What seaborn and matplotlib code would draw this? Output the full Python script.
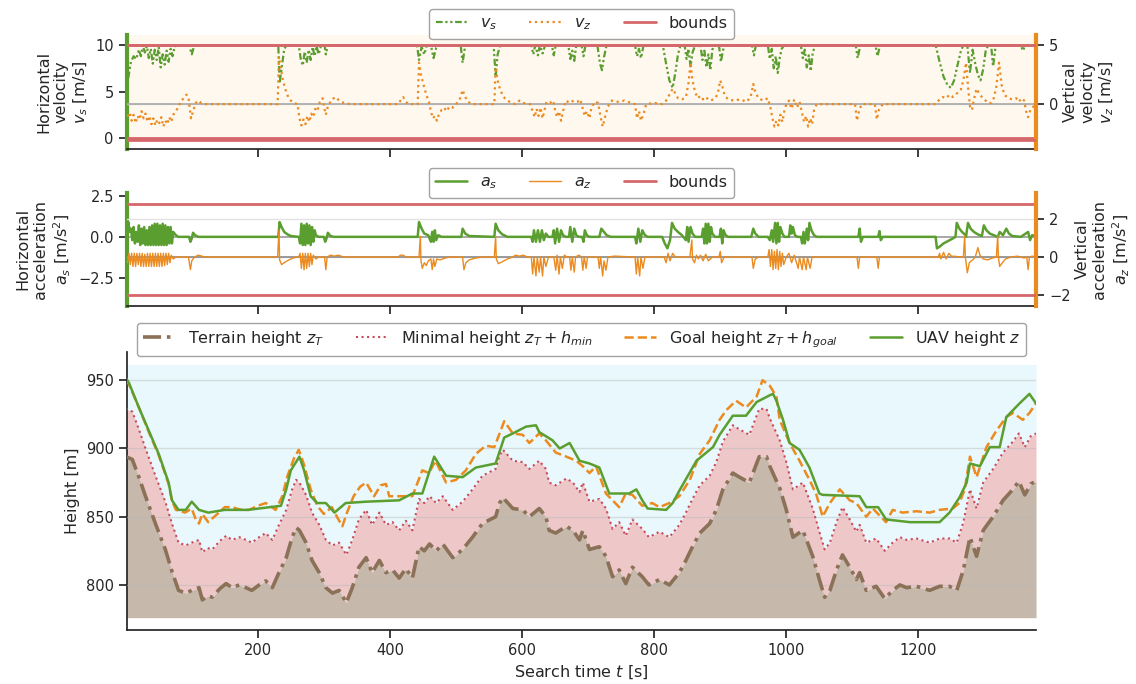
import matplotlib
matplotlib.use("Agg")
import matplotlib.pyplot as plt
import seaborn as sns
import numpy as np
from matplotlib.lines import Line2D

# ---------------- data ----------------
vs_pts = [(0,4.4),(4,6.5),(8,8.2),(12,8.8),(16,8.5),(20,9.5),(23,8.8),(26,10),(29,9.2),(32,9.9),(35,8.6),(38,9.6),(41,8.0),(44,9.5),(47,8.4),(50,9.8),(53,7.6),(56,9.0),(59,7.9),(62,9.4),(65,8.2),(68,9.6),(71,8.8),(74,9.8),(78,10),(96,10),(100,9.0),(104,10),(231,10),(233,5.9),(236,7.5),(240,9.6),(244,10),(262,10),(265,8.5),(268,7.8),(271,9.3),(274,8.1),(277,9.5),(280,8.4),(283,9.8),(286,8.8),(289,9.9),(292,9.0),(296,10),(301,10),(303,9.0),(306,10),
(441,10),(444,8.4),(448,9.8),(452,9.0),(456,10),(462,10),(466,8.6),(470,9.7),(474,10),(507,10),(510,8.1),(514,10),(557,10),(560,6.6),(563,9.0),(567,10),
(614,10),(617,9.0),(620,10),(624,8.9),(627,10),(631,9.1),(635,10),(645,10),(648,8.9),(651,10),(670,10),(673,8.5),(676,9.4),(679,8.3),(682,10),(690,10),(693,8.8),(696,10),(714,10),(718,8.0),(721,7.3),(724,8.7),(728,10),(771,10),(774,8.8),(777,9.6),(780,8.6),(784,10),
(813,10),(818,8.0),(823,6.2),(828,5.4),(832,7.0),(836,9.0),(840,10),(846,10),(849,8.5),(852,9.6),(855,7.7),(858,9.2),(862,10),(870,10),(873,8.4),(876,9.4),(879,7.6),(882,9.0),(885,7.3),(888,9.5),(891,10),(898,10),(901,8.2),(904,9.4),(907,10),(948,10),(951,8.9),(954,10),(972,10),(975,8.5),(978,9.6),(981,7.5),(984,8.8),(987,7.0),(990,8.6),(993,9.6),(997,10),(1022,10),(1025,8.6),(1028,9.5),(1031,7.6),(1034,8.9),(1037,7.2),(1040,9.2),(1044,10),(1105,10),(1108,8.6),(1112,10),(1135,10),(1138,8.8),(1142,10),
(1226,10),(1232,8.2),(1238,6.6),(1244,5.7),(1249,5.4),(1254,6.2),(1259,7.8),(1264,9.3),(1268,10),(1274,10),(1278,7.0),(1282,9.5),(1286,8.0),(1290,6.8),(1294,6.2),(1298,7.4),(1302,9.5),(1306,10),(1310,10),(1313,7.7),(1317,10),(1355,10),(1358,9.4),(1362,10),(1378,10)]

vz_pts = [(0,-0.5),(3,-1.0),(6,-0.7),(9,-1.4),(12,-0.9),(15,-1.6),(18,-1.0),(21,-1.3),(24,-0.6),(27,-1.2),(30,-0.8),(33,-1.5),(36,-1.0),(39,-1.7),(42,-1.2),(45,-1.8),(48,-1.3),(51,-1.6),(54,-1.1),(57,-1.9),(60,-1.4),(63,-1.7),(66,-1.1),(69,-1.5),(72,-0.9),(76,-0.6),(80,-0.2),(84,0.3),(88,0.5),(92,0.8),(95,0.6),(97,-0.4),(99,-1.2),(102,-0.6),(106,0.1),(110,0.3),(114,0.1),(120,0),(230,0),(232,4.0),(235,3.0),(238,2.0),(242,1.2),(246,0.6),(250,0.3),(254,0.1),(260,0),(263,-1.2),(266,-1.8),(269,-1.3),(272,-1.7),(275,-1.0),(278,-1.5),(281,-0.8),(284,-1.1),(287,-0.4),(290,-0.6),(294,0.2),(298,0.5),(301,-0.4),(303,-0.9),(306,-0.2),(312,0.4),(318,0.6),(323,0.3),(330,0.1),(340,0),
(412,0),(416,0.3),(420,0.6),(424,0.2),(428,0),(442,0),(444,3.5),(447,2.5),(451,1.6),(455,0.8),(459,0.2),(462,-0.6),(465,-1.2),(468,-1.0),(471,-1.4),(474,-0.9),(478,-0.5),(482,-0.3),(486,-0.6),(490,-0.2),(495,-0.3),(500,0),(505,0.3),(510,1.2),(514,0.6),(518,0.2),(524,0),(558,0),(560,3.1),(563,2.0),(567,1.2),(572,0.6),(578,0.3),(584,0.1),(590,0),(596,0.3),(602,0.1),(612,0),(616,-0.6),(619,-1.1),(622,-0.4),(625,-1.0),(628,-0.3),(631,-1.2),(634,-0.5),(637,0.2),(642,0.1),(647,0.3),(650,-0.5),(653,-1.1),(656,-0.6),(659,-1.4),(662,-0.6),(666,0.3),(672,0.1),(678,0.3),(684,0.2),(688,0.4),(692,-0.4),(695,-1.0),(698,-0.6),(702,-1.2),(705,-0.3),(710,0.2),(715,0.1),(718,-0.8),(722,-1.9),(726,-1.0),(730,-0.2),(736,0.3),(745,0.2),(755,0.3),(765,0.1),(771,0),(774,-1.2),(777,-0.6),(780,-1.4),(784,-0.8),(788,0),(800,0.1),(812,0),(818,0.3),(824,0.9),(828,1.3),(832,0.9),(836,0.5),(842,0.4),(848,0.6),(852,1.8),(855,3.5),(858,2.0),(862,1.0),(866,0.5),(870,0.7),(874,0.4),(878,0.6),(884,0.3),(890,0.4),(896,0.8),(900,2.0),(903,1.5),(907,0.7),(912,0.4),(920,0.3),(930,0.4),(940,0.2),(946,0.6),(950,1.7),(953,1.0),(958,0.5),(965,0.3),(972,0.5),(976,-0.3),(979,-1.2),(982,-1.9),(985,-1.4),(988,-1.8),(991,-0.9),(994,-1.5),(997,-0.6),(1000,0.0),(1004,0.3),(1008,-0.4),(1012,0.4),(1016,-0.3),(1020,0.2),(1024,-0.8),(1027,-1.5),(1030,-1.0),(1033,-1.9),(1036,-1.2),(1039,-1.7),(1042,-0.5),(1046,0),(1104,0),(1107,-1.4),(1110,-0.6),(1114,0),(1134,0),(1137,-1.3),(1140,-0.5),(1146,0),(1226,0),(1232,0.4),(1237,0.6),(1242,0.5),(1247,0.8),(1252,0.6),(1258,0.9),(1264,1.2),(1268,2.0),(1272,3.5),(1275,1.5),(1278,-0.2),(1281,-0.5),(1284,0.4),(1288,1.3),(1292,0.9),(1296,0.6),(1300,0.4),(1305,0.1),(1310,0.1),(1314,0.5),(1318,1.5),(1322,3.5),(1326,1.6),(1330,0.8),(1336,0.5),(1342,0.4),(1348,0.5),(1352,0.2),(1356,0.5),(1360,0.3),(1363,-0.6),(1366,-1.1),(1370,-0.4),(1374,-0.2),(1378,-0.3)]

as_pts = [(0,1.4),(2,0.5),(4,0.9),(6,0.3),(8,0.5),(10,-0.2),(12,0.6),(14,-0.4),(16,0.3),(18,-0.3),(20,0.7),(22,-0.5),(24,0.5),(26,-0.4),(28,0.6),(30,-0.5),(32,0.4),(34,-0.5),(36,0.6),(38,-0.5),(40,0.7),(42,-0.5),(44,0.8),(46,-0.5),(48,0.8),(50,-0.5),(52,0.7),(54,-0.5),(56,0.8),(58,-0.5),(60,0.7),(62,-0.5),(64,0.6),(66,-0.4),(68,0.6),(70,-0.4),(72,0.3),(76,0.1),(80,0.0),(96,0),(98,-0.3),(100,-0.1),(102,0.25),(105,0.1),(110,0),(231,0),(233,0.9),(236,0.6),(240,0.3),(245,0.15),(250,0.05),(262,0),(264,-0.4),(266,0.8),(268,-0.5),(270,0.7),(272,-0.5),(274,0.8),(276,-0.4),(278,0.7),(280,-0.5),(282,0.6),(284,-0.3),(286,0.4),(288,0.1),(292,0.0),(300,0),(302,-0.3),(304,-0.1),(306,0.25),(310,0.05),(315,0),
(442,0),(444,0.9),(448,0.5),(452,0.2),(458,0.1),(462,-0.3),(464,0.3),(466,-0.3),(468,0.4),(470,-0.2),(473,0.1),(478,0),(508,0),(510,0.5),(514,0.2),(520,0.05),(558,0),(560,0.8),(564,0.4),(570,0.15),(578,0),(614,0),(616,-0.3),(618,0.4),(621,-0.3),(624,0.4),(627,-0.3),(630,0.4),(633,-0.2),(636,0.2),(640,0),(646,0),(648,0.4),(650,-0.4),(653,0.5),(656,-0.3),(659,0.4),(662,0.1),(666,0),(671,0),(673,0.6),(676,-0.3),(679,0.5),(682,0.1),(686,0),(691,0),(693,-0.3),(695,0.4),(698,0.1),(702,0),(717,0),(720,0.5),(724,0.3),(728,0.1),(734,0),(771,0),(773,-0.4),(776,0.5),(779,-0.3),(782,0.4),(786,0.1),(790,0),(812,0),(816,-0.4),(820,-0.7),(824,-0.2),(827,0.85),(831,0.5),(836,0.3),(842,0.1),(848,-0.2),(850,0.6),(852,-0.3),(855,0.6),(858,0.2),(862,0),(872,0),(874,0.5),(876,-0.4),(878,0.8),(880,-0.4),(882,0.8),(884,-0.3),(886,0.6),(888,0.2),(892,0),(899,0),(901,0.5),(903,-0.4),(905,0.4),(908,0.1),(912,0),(947,0),(950,0.5),(953,0.2),(958,0),
(972,0),(975,-0.2),(978,0.4),(980,-0.3),(983,0.85),(985,-0.4),(987,0.85),(989,-0.3),(991,0.6),(994,0.2),(997,0),(1004,0),(1006,0.7),(1008,0.2),(1010,0.6),(1013,0.1),(1017,0),(1022,0),(1024,-0.4),(1026,0.3),(1028,-0.4),(1031,0.5),(1033,-0.2),(1035,0.85),(1038,0.4),(1042,0.1),(1046,0),(1109,0),(1111,0.5),(1113,-0.3),(1116,0),(1139,0),(1141,0.35),(1143,-0.2),(1146,0),(1226,0),(1228,-0.7),(1232,-0.6),(1238,-0.4),(1245,-0.25),(1252,-0.1),(1256,0.0),(1258,0.85),(1262,0.5),(1266,0.3),(1270,0.15),(1272,0.0),(1275,0.85),(1279,0.5),(1284,0.3),(1290,0.15),(1296,0.05),(1299,0.7),(1303,0.4),(1308,0.2),(1314,0.1),(1320,0.0),(1323,0.3),(1328,0.1),(1333,0.5),(1337,0.2),(1342,0.05),(1355,0),(1366,0.3),(1369,-0.2),(1372,0.1),(1378,0.05)]

az_pts = [(0,-0.15),(3,-0.3),(5,0.2),(7,-0.4),(9,0.2),(11,-0.5),(13,0.2),(15,-0.5),(17,0.2),(19,-0.4),(21,0.2),(23,-0.5),(25,0.2),(27,-0.5),(29,0.15),(31,-0.5),(33,0.2),(35,-0.5),(37,0.2),(39,-0.5),(41,0.2),(43,-0.5),(45,0.2),(47,-0.5),(49,0.2),(51,-0.5),(53,0.2),(55,-0.5),(57,0.2),(59,-0.45),(61,0.2),(63,-0.4),(65,0.2),(67,-0.3),(69,0.1),(72,-0.1),(76,0),(95,0),(98,-0.67),(100,-0.2),(104,0),(110,0.1),(115,0.05),(120,0),(230,0),(232,1.44),(233,-0.15),(236,-0.4),(242,-0.25),(250,-0.1),(258,0),(262,0),(264,0.2),(266,-0.6),(268,0.2),(270,-0.67),(272,0.2),(274,-0.6),(276,0.2),(278,-0.5),(280,0.2),(282,-0.4),(284,0.1),(288,-0.1),(292,0),(301,0),(303,-0.67),(305,0),(310,0.1),(316,0.05),(322,0.1),(330,0),
(412,0),(416,0.1),(420,0.1),(424,0),(444,0),(446,1.1),(447,-0.2),(449,-0.6),(452,-0.3),(455,-0.45),(458,-0.2),(462,-0.1),(464,-0.67),(466,-0.1),(468,-0.5),(471,-0.1),(476,-0.15),(484,-0.05),(490,0),(510,0),(512,-0.67),(515,-0.3),(520,-0.15),(530,-0.05),(540,0),(558,0),(560,1.1),(561,-0.1),(564,-0.35),(570,-0.25),(578,-0.1),(586,0),(590,0.1),(596,0.05),(602,0.1),(608,0),(614,0),(616,-0.9),(618,0),(621,-1.0),(623,0),(626,-0.8),(628,0),(631,-1.0),(633,0),(636,-0.5),(640,0),(648,0),(651,-0.7),(653,0.1),(656,-0.9),(658,0),(661,-0.6),(664,0.1),(668,0),(672,0),(674,-0.7),(676,0),(679,-0.8),(681,0),(686,0.1),(690,0),(692,-0.7),(694,0),(697,-0.6),(699,0),(704,0),(715,0),(717,-0.6),(719,0),(722,-1.0),(724,-0.2),(727,-0.7),(730,0),(740,0.05),(771,0),(773,-0.9),(775,0),(778,-1.0),(780,0),(783,-0.6),(786,0),(800,0),(815,0),(818,-0.3),(821,0.2),(824,-0.2),(828,0.2),(832,0),(854,0),(857,0.9),(858,-0.1),(861,-0.3),(864,0.1),(867,-0.1),(870,0.1),(874,-0.2),(878,0.15),(882,-0.2),(888,0),(898,0),(900,0.3),(902,-0.3),(906,0),(948,0),(950,-0.6),(953,-0.1),(958,0),(972,0),(974,0.4),(976,-0.5),(978,0.4),(980,-0.67),(982,0.3),(984,-0.6),(986,0.4),(988,-0.67),(990,0.3),(992,-0.5),(994,0.2),(996,-0.4),(1000,0),(1004,0.2),(1008,-0.3),(1012,0.1),(1018,-0.6),(1020,0),(1024,-0.67),(1026,0),(1030,-0.67),(1032,0),(1036,-0.6),(1039,0),(1044,0),(1107,0),(1109,-0.6),(1111,0),(1137,0),(1139,-0.6),(1141,0),(1230,0),(1232,0.2),(1234,-0.1),(1238,0.25),(1242,-0.1),(1246,0.2),(1250,0.05),(1268,0),(1270,1.13),(1271,0),(1274,-0.83),(1277,-0.3),(1282,-0.15),(1286,0),(1290,0.5),(1293,0.1),(1298,-0.1),(1305,-0.15),(1312,-0.05),(1318,0),(1320,1.15),(1321,0),(1323,-0.5),(1327,-0.3),(1332,-0.1),(1340,0),(1350,0.05),(1360,-0.05),(1364,0),(1366,-0.67),(1368,0),(1372,0.05),(1378,0)]

terrain_pts = [(0,894),(10,892),(20,879),(30,865),(45,845),(60,826),(70,810),(80,796),(91,794),(100,796),(111,798),(116,789),(124,792),(131,791),(142,797),(152,801),(161,798),(172,800),(182,798),(191,796),(202,800),(212,803),(222,798),(232,809),(243,820),(252,835),(258,842),(263,840),(273,831),(282,818),(293,809),(303,798),(313,794),(323,796),(334,787),(343,798),(353,813),(364,820),(373,809),(384,818),(394,809),(404,811),(414,805),(424,812),(434,805),(444,828),(452,825),(460,830),(470,825),(480,830),(495,820),(510,826),(525,835),(540,845),(560,850),(566,860),(571,864),(586,856),(601,855),(611,850),(626,856),(636,850),(641,840),(651,838),(667,843),(677,840),(687,833),(692,840),(702,826),(717,828),(727,821),(737,806),(747,811),(757,801),(767,813),(782,806),(792,800),(808,804),(823,800),(838,809),(848,818),(858,828),(869,838),(884,845),(894,855),(904,870),(919,882),(929,879),(944,875),(959,894),(970,894),(975,887),(990,871),(1000,855),(1010,835),(1025,840),(1040,821),(1050,804),(1058,791),(1066,796),(1076,811),(1085,822),(1096,813),(1106,804),(1111,809),(1121,796),(1136,799),(1149,790),(1161,796),(1172,800),(1182,798),(1197,799),(1217,796),(1232,799),(1247,799),(1258,796),(1268,811),(1278,835),(1288,821),(1298,840),(1313,850),(1328,862),(1343,870),(1352,876),(1361,866),(1370,874),(1378,876)]

uav_pts = [(0,952),(5,948),(20,930),(35,913),(50,896),(65,875),(70,862),(80,855),(91,855),(100,861),(111,855),(125,853),(150,855),(185,855),(235,858),(243,870),(250,884),(263,894),(270,884),(280,865),(290,860),(303,860),(316,853),(333,860),(364,861),(414,862),(434,867),(449,867),(467,894),(485,880),(510,879),(530,886),(560,889),(573,908),(586,911),(606,916),(621,917),(626,912),(646,906),(657,900),(672,904),(687,891),(702,889),(717,886),(732,867),(762,867),(773,870),(782,862),(790,856),(818,855),(828,860),(838,869),(864,891),(889,901),(899,910),(919,924),(939,924),(955,934),(975,939),(980,940),(985,935),(995,921),(1005,904),(1020,899),(1035,886),(1050,867),(1055,866),(1111,865),(1121,857),(1139,857),(1151,848),(1187,846),(1232,846),(1247,853),(1262,864),(1273,875),(1278,889),(1293,887),(1308,901),(1323,901),(1333,923),(1353,933),(1368,940),(1378,933)]

goal_pts = [(0,950),(5,947),(20,930),(35,912),(50,895),(65,874),(70,862),(76,855),(90,853),(100,856),(106,848),(111,845),(116,852),(125,846),(141,853),(150,857),(161,857),(175,855),(187,855),(200,858),(212,860),(227,855),(237,865),(245,880),(255,893),(262,899),(270,888),(280,870),(290,858),(300,852),(312,857),(322,848),(328,843),(335,853),(345,865),(355,872),(364,875),(376,865),(386,873),(394,874),(399,865),(415,865),(434,865),(449,884),(459,882),(469,891),(485,875),(500,877),(515,884),(530,896),(545,902),(558,901),(566,911),(573,920),(586,911),(601,910),(611,904),(626,911),(636,906),(651,897),(667,894),(682,891),(692,887),(702,882),(712,887),(727,867),(737,862),(747,857),(757,867),(767,866),(782,858),(797,860),(808,857),(823,860),(838,865),(854,877),(869,896),(884,906),(899,921),(909,928),(924,935),(939,930),(955,938),(964,950),(975,946),(985,938),(990,921),(1005,904),(1020,891),(1035,877),(1045,867),(1055,850),(1066,860),(1081,870),(1096,862),(1106,860),(1121,850),(1131,856),(1151,846),(1161,855),(1176,853),(1197,854),(1217,853),(1232,855),(1252,856),(1262,860),(1270,870),(1278,894),(1288,879),(1303,901),(1318,913),(1333,923),(1343,926),(1358,921),(1368,926),(1378,933)]

H_MIN = 35.0                 # z_T + h_min offset
vs_bounds = [0, 10]
vz_bounds = [-3, 5]
as_bounds = [-3.55, 2.0]
az_bounds = [-2.0, 2.9]
x_ticks = [200, 400, 600, 800, 1000, 1200]


def split(pts):
    a = np.array(pts, dtype=float)
    return a[:, 0], a[:, 1]


# ---------------- style ----------------
sns.set_theme(context="notebook", style="ticks")
plt.rcParams["font.family"] = ["DejaVu Sans"]
plt.rcParams.update({
    "axes.labelsize": 11.5,
    "xtick.labelsize": 10.5,
    "ytick.labelsize": 10.5,
    "legend.fontsize": 11.5,
})
GREEN = "#5b9e30"
ORANGE = "#eb8a1e"
RED = "#d5676b"
BROWN = "#8c7159"
MINRED = "#c94a5c"

fig = plt.figure(figsize=(11.36, 6.84), dpi=100)
L, W = 0.1118, 0.8002
ax_v = fig.add_axes([L, 0.782, W, 0.167])
ax_a = fig.add_axes([L, 0.553, W, 0.165])
ax_h = fig.add_axes([L, 0.079, W, 0.406])
ax_v2 = ax_v.twinx()
ax_a2 = ax_a.twinx()

XMIN, XMAX = 2, 1378


def style_twin(ax, ax2):
    ax.spines["top"].set_visible(False)
    ax.spines["right"].set_visible(False)
    ax.spines["left"].set_color(GREEN)
    ax.spines["left"].set_linewidth(3)
    ax2.spines["top"].set_visible(False)
    ax2.spines["left"].set_visible(False)
    ax2.spines["bottom"].set_visible(False)
    ax2.spines["right"].set_color(ORANGE)
    ax2.spines["right"].set_linewidth(3)
    ax.set_xlim(XMIN, XMAX)
    ax.set_xticks(x_ticks)
    ax.tick_params(labelbottom=False)
    ax2.grid(axis="y", color="#e2e2e2", lw=1.0)
    ax.set_xlabel("")
    ax2.yaxis.labelpad = 3


def add_legend(ax, handles, labels, ncol, y):
    leg = ax.legend(handles, labels, ncol=ncol, loc="lower center",
                    bbox_to_anchor=(0.5, y), borderaxespad=0, frameon=True,
                    columnspacing=2.0)
    leg.get_frame().set_edgecolor("0.55")
    return leg


# ---------------- velocity panel ----------------
t, v = split(vs_pts)
ax_v.axhspan(vs_bounds[0], 11.1, color="#fff8ef", zorder=0, lw=0)
VS_LS = (0, (3, 1.2, 1, 1.2, 1, 1.2))
sns.lineplot(x=t, y=v, ax=ax_v, color=GREEN, lw=1.6, linestyle=VS_LS,
             errorbar=None, sort=False)
for b in vs_bounds:
    ax_v.axhline(b, color=RED, lw=2, zorder=3)
ax_v.set_ylim(-1.2, 11.1)
ax_v.set_yticks([0, 5, 10])
ax_v.set_ylabel("Horizontal\nvelocity\n$v_s$ [m/s]")

t, v = split(vz_pts)
ax_v2.axhline(0, color="#a8a8a8", lw=1.2, zorder=1)
sns.lineplot(x=t, y=v, ax=ax_v2, color=ORANGE, lw=1.6, linestyle=":",
             errorbar=None, sort=False)
for b in vz_bounds:
    ax_v2.axhline(b, color=RED, lw=2, zorder=3)
ax_v2.set_ylim(-3.8, 5.85)
ax_v2.set_yticks([0, 5])
ax_v2.set_ylabel("Vertical\nvelocity\n$v_z$ [m/s]")
style_twin(ax_v, ax_v2)

h1 = [Line2D([], [], color=GREEN, lw=1.6, linestyle=VS_LS),
      Line2D([], [], color=ORANGE, lw=1.6, linestyle=":"),
      Line2D([], [], color=RED, lw=2)]
add_legend(ax_v2, h1, ["$v_s$", "$v_z$", "bounds"], 3, 0.965)

# ---------------- acceleration panel ----------------
t, v = split(as_pts)
ax_a.axhline(0, color="#9a9a9a", lw=1.2, zorder=1)
sns.lineplot(x=t, y=v, ax=ax_a, color=GREEN, lw=1.8, errorbar=None, sort=False)
ax_a.axhline(as_bounds[1], color=RED, lw=2, zorder=3)
ax_a.set_ylim(-4.2, 2.68)
ax_a.set_yticks([-2.5, 0, 2.5])
ax_a.set_ylabel("Horizontal\nacceleration\n$a_s$ [m/s$^2$]")

t, v = split(az_pts)
ax_a2.axhline(0, color="#8a8a8a", lw=1.2, zorder=1)
sns.lineplot(x=t, y=v, ax=ax_a2, color=ORANGE, lw=1.0, errorbar=None, sort=False)
ax_a2.axhline(az_bounds[0], color=RED, lw=2, zorder=3)
ax_a2.set_ylim(-2.58, 3.40)
ax_a2.set_yticks([-2, 0, 2])
ax_a2.set_ylabel("Vertical\nacceleration\n$a_z$ [m/s$^2$]")
style_twin(ax_a, ax_a2)

h2 = [Line2D([], [], color=GREEN, lw=1.8),
      Line2D([], [], color=ORANGE, lw=1.0),
      Line2D([], [], color=RED, lw=2)]
add_legend(ax_a2, h2, ["$a_s$", "$a_z$", "bounds"], 3, 0.956)

# ---------------- height panel ----------------
tt, zt = split(terrain_pts)
zmin = zt + H_MIN
tu, zu = split(uav_pts)
tg, zg = split(goal_pts)
FILL_TOP, FILL_BOT = 961.5, 776.0

ax_h.fill_between(tt, zmin, FILL_TOP, color="#e8f8fc", lw=0, zorder=1)
ax_h.fill_between(tt, zt, zmin, color="#eec8c9", lw=0, zorder=1)
ax_h.fill_between(tt, FILL_BOT, zt, color="#c6b8ab", lw=0, zorder=1)
ax_h.set_axisbelow(False)
ax_h.grid(axis="y", color="#b8b8b8", alpha=0.45, lw=1.0, zorder=1.5)

TER_LS = (0, (5, 1.6, 1, 1.6))
sns.lineplot(x=tt, y=zt, ax=ax_h, color=BROWN, lw=2.6, linestyle=TER_LS,
             errorbar=None, sort=False, zorder=3)
sns.lineplot(x=tt, y=zmin, ax=ax_h, color=MINRED, lw=1.5, linestyle=":",
             errorbar=None, sort=False, zorder=3)
sns.lineplot(x=tg, y=zg, ax=ax_h, color=ORANGE, lw=1.8, linestyle="--",
             errorbar=None, sort=False, zorder=4)
sns.lineplot(x=tu, y=zu, ax=ax_h, color=GREEN, lw=1.8, errorbar=None,
             sort=False, zorder=5)

ax_h.set_xlim(XMIN, XMAX)
ax_h.set_ylim(767, 970.5)
ax_h.set_xticks(x_ticks)
ax_h.set_yticks([800, 850, 900, 950])
ax_h.spines["top"].set_visible(False)
ax_h.spines["right"].set_visible(False)
ax_h.set_xlabel("Search time $t$ [s]")
ax_h.set_ylabel("Height [m]")

h3 = [Line2D([], [], color=BROWN, lw=2.6, linestyle=TER_LS),
      Line2D([], [], color=MINRED, lw=1.5, linestyle=":"),
      Line2D([], [], color=ORANGE, lw=1.8, linestyle="--"),
      Line2D([], [], color=GREEN, lw=1.8)]
add_legend(ax_h, h3, ["Terrain height $z_T$", "Minimal height $z_T + h_{min}$",
                      "Goal height $z_T + h_{goal}$", "UAV height $z$"], 4, 0.986)

fig.savefig("out.png", dpi=100)
